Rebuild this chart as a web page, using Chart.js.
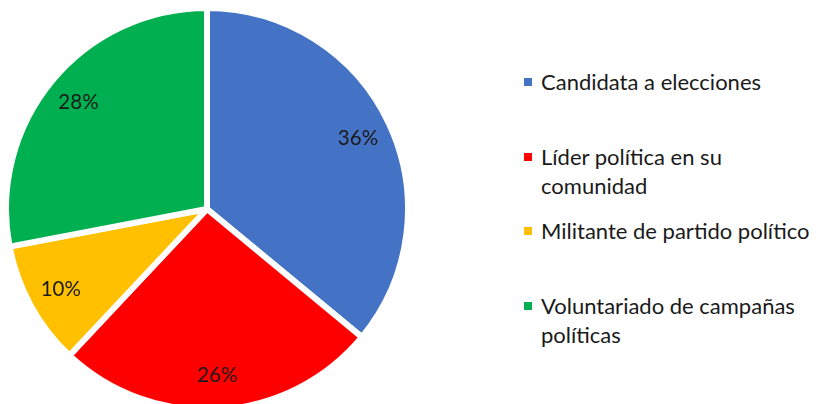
<!doctype html>
<html lang="es">
<head>
  <meta charset="utf-8">
  <title>Participación política</title>
  <style>
    * { margin: 0; padding: 0; }
    body { width: 819px; height: 404px; overflow: hidden; background: white; position: relative; font-family: Lato, "Open Sans", sans-serif; }
    .pieBox { position: absolute; left: 3px; top: 5px; width: 408px; height: 408px; }
    #legend { position: absolute; left: 524px; top: 67px; list-style: none; }
    #legend li { height: 74.5px; position: relative; padding-left: 17px; font-size: 22px; line-height: 29px; color: #1a1a1a; white-space: nowrap; }
    #legend li span.box { position: absolute; left: 0; top: 11px; width: 8px; height: 8px; }
  </style>
</head>
<body>
  <div class="pieBox"><canvas id="myChart"></canvas></div>
  <ul id="legend"></ul>

  <script src="https://cdn.jsdelivr.net/npm/chart.js"></script>
  <script>
    // data
    const categorias = ['Candidata a elecciones', 'Líder política en su comunidad', 'Militante de partido político', 'Voluntariado de campañas políticas'];
    const leyenda = [['Candidata a elecciones'], ['Líder política en su', 'comunidad'], ['Militante de partido político'], ['Voluntariado de campañas', 'políticas']];
    const porcentajes = [36, 26, 10, 28];
    const colores = ['#4472C4', '#FF0000', '#FFC000', '#00B050'];

    // percentages inside the slices
    const pieLabels = {
      id: 'pieLabels',
      afterDatasetsDraw(chart) {
        const ctx = chart.ctx;
        const meta = chart.getDatasetMeta(0);
        ctx.save();
        ctx.font = '20.5px Lato, "Open Sans", sans-serif';
        ctx.fillStyle = '#1a1a1a';
        ctx.textAlign = 'center';
        ctx.textBaseline = 'middle';
        meta.data.forEach((arc, i) => {
          const mid = (arc.startAngle + arc.endAngle) / 2;
          const r = arc.outerRadius * 0.83;
          ctx.fillText(porcentajes[i] + '%', arc.x + Math.cos(mid) * r, arc.y + Math.sin(mid) * r);
        });
        ctx.restore();
      }
    };

    const myChart = new Chart(document.getElementById('myChart'), {
      type: 'pie',
      data: {
        labels: categorias,
        datasets: [{
          data: porcentajes,
          backgroundColor: colores,
          borderColor: 'white',
          borderWidth: 6
        }]
      },
      options: {
        responsive: true,
        maintainAspectRatio: false,
        animation: false,
        layout: { padding: 0 },
        plugins: {
          legend: { display: false },
          tooltip: { enabled: false }
        }
      },
      plugins: [pieLabels]
    });

    // legend on the right
    const ul = document.getElementById('legend');
    leyenda.forEach((lineas, i) => {
      const li = document.createElement('li');
      const box = document.createElement('span');
      box.className = 'box';
      box.style.background = colores[i];
      li.appendChild(box);
      lineas.forEach((t, j) => {
        if (j > 0) li.appendChild(document.createElement('br'));
        li.appendChild(document.createTextNode(t));
      });
      ul.appendChild(li);
    });
  </script>
</body>
</html>
